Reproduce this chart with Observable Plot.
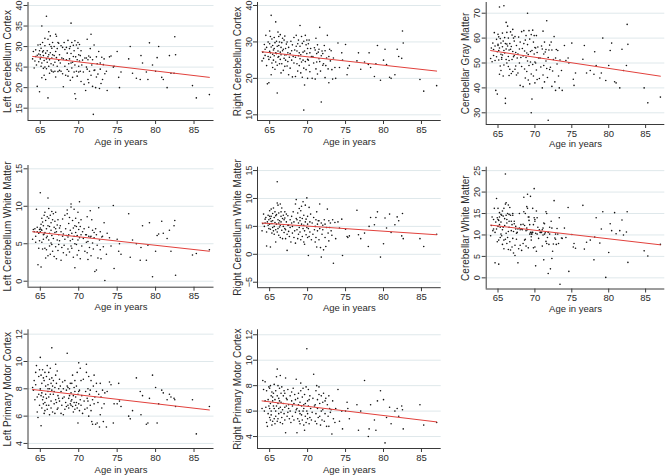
<!DOCTYPE html>
<html><head><meta charset="utf-8">
<script src="https://cdn.jsdelivr.net/npm/d3@7"></script>
<script src="https://cdn.jsdelivr.net/npm/@observablehq/plot@0.6"></script>
<style>
body{margin:0;background:#fff}
#chart{position:relative;width:667px;height:475px;overflow:hidden;font-family:"Liberation Sans",Arial,Helvetica,sans-serif}
#chart svg{position:absolute}
</style></head><body><div id="chart"></div>
<script>
// ---------- data ----------
const ageTicks = [65, 70, 75, 80, 85];
const xTitle = "Age in years";
const denseAges = [
64.0,64.1,64.2,64.3,64.4,64.4,
64.5,64.6,64.6,64.7,64.8,64.8,64.9,64.9,65.0,
65.0,65.0,65.1,65.1,65.1,65.2,65.2,65.2,65.3,65.3,65.4,65.4,65.4,65.5,
65.5,65.6,65.6,65.6,65.7,65.7,65.8,65.8,65.8,65.9,65.9,66.0,66.0,
66.0,66.1,66.1,66.1,66.2,66.2,66.2,66.3,66.3,66.4,66.4,66.4,66.5,66.5,
66.5,66.6,66.6,66.7,66.7,66.8,66.8,66.9,66.9,67.0,67.0,
67.0,67.1,67.1,67.2,67.2,67.3,67.3,67.4,67.4,67.5,
67.5,67.6,67.7,67.7,67.8,67.9,67.9,68.0,
68.0,68.1,68.2,68.2,68.3,68.4,68.4,68.5,
68.5,68.6,68.6,68.7,68.7,68.8,68.8,68.9,68.9,69.0,
69.0,69.0,69.1,69.1,69.2,69.2,69.3,69.3,69.4,69.4,69.5,69.5,
69.5,69.6,69.6,69.7,69.7,69.8,69.8,69.9,69.9,70.0,70.0,70.0,
70.1,70.1,70.2,70.2,70.3,70.3,70.4,70.5,
70.6,70.7,70.8,70.9,71.0,
71.0,71.1,71.1,71.2,71.2,71.3,71.3,71.4,71.5,
71.5,71.6,71.6,71.7,71.8,71.8,71.9,72.0,
72.0,72.1,72.2,72.3,72.3,72.4,72.5,
72.6,72.7,72.8,72.8,72.9,73.0,
73.1,73.2,73.3,73.4];
const sparseAges = [73.6,73.7,74.0,74.2,74.5,74.6,75.0,75.2,75.3,75.5,76.5,76.7,77.0,77.5,78.0,78.1,78.3,78.8,79.0,79.2,79.6,80.0,80.2,80.4,80.8,81.0,81.5,81.8,82.0,82.4,82.5,82.6,84.8,85.3,87.0];
const ages = denseAges.concat(sparseAges);

const leftCerebellumCortex = [
27.0,28.8,24.8,26.5,29.2,27.6,
25.5,20.3,27.9,30.4,26.3,28.2,19.0,29.0,27.0,
30.5,28.0,25.2,29.6,27.4,35.0,26.0,22.4,31.0,28.7,24.7,27.8,29.0,23.0,
26.6,30.2,25.0,32.0,22.0,28.4,27.0,24.6,37.4,29.0,26.2,31.8,27.5,
17.5,33.6,28.0,25.2,30.5,26.8,23.5,32.6,28.5,25.8,30.0,24.3,27.2,29.6,
24.0,28.0,31.0,25.5,23.8,27.8,30.0,26.2,24.0,28.8,22.6,
33.0,32.5,27.3,25.2,29.5,23.9,31.0,26.6,30.8,24.2,
28.0,26.0,24.0,30.2,27.2,29.8,23.4,20.2,
27.0,31.0,25.2,29.3,23.0,26.8,29.8,24.4,
28.4,22.8,31.5,25.8,24.0,29.5,27.0,30.0,21.8,26.0,
35.7,28.3,24.8,31.0,26.2,22.5,30.3,27.6,23.8,29.0,25.5,31.4,
18.5,17.3,27.5,24.0,30.4,26.8,22.8,29.6,31.0,25.2,28.0,23.8,
26.5,30.5,24.0,27.8,21.5,29.0,25.5,26.7,
23.8,20.8,27.2,19.3,25.0,
27.2,24.5,31.8,22.0,26.8,21.2,27.7,24.0,29.5,
27.4,23.0,33.0,25.5,20.3,26.8,13.5,24.2,
30.4,24.3,20.0,27.5,22.6,25.8,23.3,
28.8,19.8,26.0,24.5,21.0,27.4,
22.0,25.6,27.0,23.4,
24.0,19.3,27.5,27.7,25.0,25.2,28.8,22.5,20.0,23.8,27.0,30.0,23.5,22.3,22.0,27.8,26.0,23.8,22.0,30.9,25.5,24.0,27.3,30.0,22.5,22.0,20.0,27.8,23.5,23.5,32.4,28.0,20.5,17.5,18.3];

const rightCerebellumCortex = [
24.8,27.2,25.5,29.3,26.3,28.0,
31.8,23.5,28.5,18.5,26.0,30.0,18.8,25.2,27.4,
33.0,29.5,25.8,27.0,31.5,21.0,37.3,28.6,24.2,30.8,26.6,23.0,29.0,27.8,
25.0,28.2,31.2,26.2,22.5,29.8,35.5,27.0,24.5,30.2,26.8,28.8,23.6,
16.0,32.7,27.5,25.8,31.5,29.0,26.0,24.0,30.0,27.2,25.2,32.0,28.5,21.5,
26.5,29.8,24.0,31.0,27.6,22.2,28.0,25.5,30.5,26.4,23.3,
31.6,28.2,25.0,29.4,26.5,23.4,30.0,27.0,24.6,21.0,
28.5,25.8,26.8,22.8,30.2,25.0,27.6,20.4,
29.2,26.0,31.2,24.2,27.8,20.5,25.8,28.8,
31.8,24.0,27.5,29.5,22.0,26.2,30.5,23.5,27.0,25.4,
34.5,28.8,21.5,26.5,31.5,24.5,29.6,20.3,27.2,25.0,30.2,22.8,
11.3,18.2,27.5,31.8,24.6,29.2,22.4,26.8,30.5,25.2,28.2,20.0,
29.5,25.0,30.5,23.6,27.0,21.8,28.2,26.0,
20.0,26.0,24.2,28.4,19.8,
27.8,31.0,22.6,26.8,24.5,29.2,21.2,27.2,25.4,
28.0,24.6,34.0,22.0,26.2,13.5,27.5,23.6,
26.8,24.0,29.0,20.2,27.6,23.5,25.6,
31.8,22.6,26.0,18.8,28.0,24.8,
27.6,22.4,19.8,25.6,
23.0,20.0,29.7,23.0,27.0,25.0,29.3,21.0,22.8,23.5,24.8,27.0,22.5,24.5,23.8,27.0,23.0,20.5,24.0,29.0,19.5,25.0,28.0,23.8,20.3,20.0,21.0,28.0,26.0,25.5,33.0,29.7,19.7,16.5,18.0];

const cerebellarGrayMatter = [
51.8,56.0,50.5,58.0,53.0,55.4,
62.2,51.0,56.8,39.0,52.5,59.5,37.5,54.5,57.0,
61.5,57.5,51.2,55.0,60.5,45.5,72.5,56.0,48.8,59.8,53.5,47.0,58.0,52.2,
51.5,56.5,62.0,53.2,44.8,58.8,73.0,55.0,49.2,60.2,54.0,57.8,33.8,
35.8,66.3,55.6,51.4,62.3,57.6,50.0,64.8,56.8,52.6,60.0,48.6,55.2,45.0,
51.0,57.8,47.5,62.5,55.5,45.8,56.6,51.4,61.2,54.6,46.6,
63.5,60.0,52.5,58.8,53.0,47.5,60.6,54.2,48.8,45.2,
57.0,52.0,53.6,46.0,60.4,50.0,55.6,41.0,
58.4,52.2,62.6,48.6,55.8,40.5,52.8,57.8,
63.0,47.6,54.8,59.2,44.0,52.2,61.0,46.6,54.0,50.8,
70.0,57.4,43.2,53.4,63.0,49.0,59.6,41.6,54.6,50.4,61.4,45.6,
30.0,35.5,55.0,63.2,49.4,58.4,44.8,53.6,61.0,50.4,56.2,42.0,
56.0,50.0,61.0,47.2,54.2,43.4,56.4,52.0,
43.8,52.0,48.4,56.8,40.0,
55.6,62.8,45.2,53.6,49.0,58.4,42.4,54.4,50.8,
55.4,47.8,67.0,44.2,52.2,27.0,55.2,47.4,
57.2,48.3,58.4,40.6,55.2,46.8,51.4,
60.6,42.4,52.0,39.0,55.4,49.6,
55.0,44.8,40.0,51.2,
47.0,39.0,57.0,51.0,52.0,50.0,58.0,43.5,41.0,46.0,51.5,57.0,46.0,47.0,45.5,54.5,49.0,44.0,46.0,60.0,43.0,49.0,55.0,58.0,42.5,42.0,40.0,55.5,47.0,49.0,65.5,57.5,40.0,34.0,36.3];

const leftCerebellumWhiteMatter = [
5.6,6.9,6.6,7.0,5.2,6.0,
9.6,6.6,7.2,2.2,6.4,4.4,6.9,5.4,7.1,
11.8,6.6,6.9,1.9,7.6,5.2,8.4,6.8,4.3,7.9,6.2,5.6,7.4,8.8,
6.3,4.4,9.2,6.5,3.1,8.1,5.8,7.0,4.2,8.6,6.0,3.4,7.4,
11.1,8.4,5.5,9.7,7.3,4.7,6.4,8.8,3.6,7.8,5.1,6.8,9.3,4.9,
6.1,8.2,4.0,9.0,5.7,7.2,3.3,6.5,8.0,4.6,7.0,
9.2,6.6,3.0,7.5,5.5,4.1,8.2,6.2,4.9,7.1,
5.4,7.4,2.8,6.6,4.5,8.3,6.0,3.8,
6.3,4.8,8.8,5.6,7.0,3.5,6.1,9.0,
9.5,5.9,4.3,7.7,6.2,3.9,8.5,5.4,6.8,4.7,
10.3,9.9,6.4,4.4,8.1,5.6,7.1,3.2,6.0,9.6,5.0,7.4,
1.8,6.5,8.4,4.9,7.3,3.5,6.1,9.2,5.5,7.8,4.1,6.9,
10.6,5.8,7.3,3.0,8.2,6.2,4.7,6.6,
5.7,7.0,4.0,6.2,5.2,
6.2,3.8,8.6,5.3,2.9,7.2,6.0,4.5,5.9,
9.4,6.0,3.4,8.2,5.1,6.8,4.3,6.5,
5.8,1.3,7.0,1.5,6.2,4.8,3.1,
9.8,5.5,4.2,6.6,3.0,5.9,
6.0,4.6,7.8,0.1,
3.6,6.4,5.8,4.7,10.1,1.7,5.6,4.0,5.0,3.6,9.0,3.2,5.5,5.0,2.8,4.5,7.4,2.8,4.8,7.8,0.6,4.0,6.1,6.3,8.0,6.4,5.7,6.8,4.0,7.4,8.1,0.8,3.5,3.7,4.2];

const rightCerebellumWhiteMatter = [
4.2,5.5,7.2,5.0,6.3,5.6,
6.6,4.0,1.5,5.8,7.0,5.2,6.2,4.6,6.8,
5.4,7.8,6.4,4.5,1.3,5.9,8.1,6.8,3.8,5.5,7.3,4.8,6.0,4.2,
8.3,5.0,6.6,3.6,7.6,5.7,4.4,6.9,2.2,5.4,7.1,4.0,9.2,
13.0,6.2,4.6,8.8,5.6,3.4,7.4,6.0,4.9,9.0,5.2,3.0,6.8,7.6,
5.8,8.3,4.3,6.4,2.8,7.0,5.0,3.9,6.2,4.6,7.6,
6.5,4.4,2.8,5.8,7.2,3.6,0.7,5.2,6.9,4.1,
5.2,3.2,6.2,4.8,2.2,6.8,5.6,3.8,
5.0,7.6,3.0,5.8,4.2,9.0,2.0,6.4,
9.8,6.2,4.4,7.4,2.8,5.6,3.6,8.2,4.8,6.6,
6.0,4.0,7.8,2.6,5.4,8.6,3.2,6.4,4.6,9.4,5.2,2.2,
7.0,4.2,1.8,5.8,8.8,3.5,6.3,4.8,10.1,5.4,3.0,6.8,
-0.2,4.6,8.4,3.2,5.8,4.0,7.2,2.6,
5.6,3.6,6.6,4.4,2.2,
5.0,6.2,3.0,7.6,1.3,5.4,4.2,6.0,2.6,
6.0,9.0,4.6,1.2,5.6,-0.5,3.6,5.2,
4.4,0.8,6.2,3.0,5.4,1.4,4.8,
8.1,3.8,6.0,2.4,4.8,5.6,
4.2,3.4,6.2,-1.6,
5.7,2.8,5.8,4.7,6.3,-0.2,4.5,3.2,3.0,3.3,7.9,3.5,2.8,3.8,1.4,5.0,6.6,5.3,6.6,7.6,-0.5,1.9,6.5,4.7,7.2,3.9,5.3,6.7,6.0,3.3,7.3,2.8,2.8,1.4,3.6];

const cerebellarWhiteMatter = [
9.8,12.2,14.2,11.0,13.6,11.4,
16.2,10.6,3.5,13.0,18.5,11.4,14.0,8.4,13.6,
12.0,16.2,13.4,8.8,3.2,12.4,15.2,14.2,9.4,11.8,14.8,10.2,13.0,9.8,
14.6,11.2,15.6,7.8,14.4,11.8,8.8,16.2,6.8,12.2,13.8,9.0,17.2,
24.2,14.6,10.4,17.5,12.8,8.0,13.6,15.0,9.4,17.0,10.8,6.6,13.2,14.8,
11.8,16.4,8.4,14.6,6.5,13.2,11.0,7.2,12.4,9.2,14.6,
15.0,10.8,5.8,13.2,12.6,7.6,5.2,11.4,12.0,9.0,
10.4,10.6,3.5,11.4,6.8,15.0,11.6,7.6,
11.2,12.4,6.4,11.4,11.2,12.5,8.0,15.4,
18.8,12.2,8.8,15.0,9.0,11.0,7.4,16.6,11.6,11.2,
16.2,19.5,14.2,7.0,13.4,14.2,10.2,12.4,10.6,19.0,10.2,9.6,
8.8,10.6,10.2,10.6,16.2,7.0,12.4,14.0,20.8,13.2,7.2,13.6,
2.8,10.4,15.6,6.2,14.0,10.2,11.8,9.2,
11.2,10.6,10.6,10.6,7.4,
11.2,10.0,11.6,12.8,4.2,12.6,10.2,10.5,8.5,
15.4,15.0,8.0,9.4,10.6,1.0,7.8,11.8,
10.2,2.1,13.2,4.5,11.6,6.2,7.9,
18.0,9.3,10.2,9.0,7.8,11.5,
10.2,8.0,14.0,-1.5,
9.3,9.2,11.6,9.4,16.4,1.5,10.1,7.2,8.0,6.9,16.9,6.7,8.3,8.8,4.2,9.5,14.0,8.1,11.4,15.4,0.1,5.9,12.6,11.0,15.2,10.3,11.0,13.5,10.0,10.7,15.4,3.6,6.3,5.1,7.8];

const leftPrimaryMotorCortex = [
8.1,7.9,8.6,7.2,9.2,8.3,
9.7,7.4,6.3,5.9,8.9,7.6,6.8,9.4,7.9,
8.0,10.3,7.5,5.3,9.0,7.7,6.6,8.4,7.2,9.4,6.9,8.8,7.4,6.2,
8.6,7.0,9.2,6.4,8.2,7.6,6.8,8.9,7.3,9.7,6.5,8.0,7.8,
8.3,6.8,9.2,7.4,8.7,6.1,8.0,7.6,9.5,6.6,8.4,7.1,8.8,7.9,
11.0,8.2,6.3,7.6,8.6,6.9,7.8,6.2,8.1,7.2,9.0,
9.8,7.0,8.4,6.5,9.3,7.5,6.6,8.0,7.3,8.7,
7.1,8.2,6.2,7.8,6.8,8.5,7.3,6.1,
8.0,7.4,6.5,8.6,7.0,6.7,7.9,8.2,
10.6,6.8,8.1,7.3,6.6,8.0,7.5,6.9,8.4,7.1,
7.7,6.8,8.4,7.2,6.7,9.0,7.5,6.3,8.1,7.0,7.8,6.5,
8.6,7.4,6.8,8.2,7.0,6.6,9.2,5.5,7.6,6.9,9.9,7.8,
7.9,6.4,9.5,7.2,6.8,8.6,7.5,6.2,
8.7,7.1,6.5,7.8,9.8,
9.2,7.3,6.6,8.0,7.1,6.0,8.9,7.6,6.8,
7.9,8.6,6.4,5.6,7.2,5.4,8.2,6.9,
9.0,7.4,5.4,8.4,7.8,5.5,7.0,
7.6,5.2,8.4,6.1,7.4,6.6,
7.9,5.6,6.9,7.7,
5.2,7.8,8.5,8.3,5.5,6.9,6.9,8.4,7.1,6.7,6.0,5.8,6.4,8.8,7.8,6.1,7.5,5.4,5.5,7.3,9.0,8.1,5.5,6.9,7.9,7.7,7.2,7.6,7.4,7.3,7.2,6.7,7.2,4.7,6.7];

const rightPrimaryMotorCortex = [
6.2,8.4,7.7,6.0,8.3,6.8,
6.3,5.1,7.6,4.8,6.9,5.8,7.9,6.4,5.5,
7.8,6.2,5.3,8.0,6.6,7.2,5.7,6.0,7.5,4.9,6.8,5.2,7.1,6.4,
7.4,5.4,6.2,8.1,5.0,6.9,6.0,7.6,5.6,8.7,6.4,5.2,7.2,
9.3,6.6,8.0,5.4,7.0,6.2,5.8,7.8,6.8,5.1,8.8,6.3,7.4,5.9,
6.7,5.5,7.9,6.1,5.0,7.2,6.6,5.8,7.6,6.3,5.3,
7.4,8.6,4.3,6.4,7.0,5.6,6.9,7.7,5.9,6.2,
6.5,5.4,7.2,6.0,5.1,6.8,7.5,5.6,
6.4,7.8,5.3,6.6,7.3,5.9,6.9,6.1,
8.5,6.2,4.3,7.0,5.4,6.5,7.4,5.2,6.0,5.8,
6.7,5.0,7.6,8.2,5.7,6.4,7.1,5.3,6.0,7.8,4.9,6.5,
6.2,4.5,7.3,5.6,6.6,5.1,7.9,6.0,10.9,5.4,6.8,5.8,
7.7,6.4,5.0,6.9,5.5,7.2,6.2,5.3,
5.9,7.0,8.9,6.4,5.2,
6.5,7.6,5.8,8.0,5.0,6.9,6.2,5.5,7.3,
7.9,5.6,6.6,4.9,7.2,6.0,5.3,6.7,
6.1,7.4,5.2,6.8,5.8,7.0,4.8,
6.5,5.6,7.2,4.8,6.2,5.9,
6.1,4.2,6.8,5.4,
5.1,6.2,7.7,5.2,6.0,4.6,6.0,6.7,6.2,5.4,6.5,4.5,6.0,8.4,4.0,4.6,6.5,5.3,4.5,6.8,7.6,6.9,3.5,5.5,6.3,5.0,6.0,6.2,5.6,6.4,6.1,4.6,6.5,4.9,5.1];

// fitted lines (read at the two ends, ages 64 and 87)
const fitAges = [64, 87];
const fitLeftCerebellumCortex = [27.6, 22.5];
const fitRightCerebellumCortex = [27.3, 22.0];
const fitCerebellarGrayMatter = [55.0, 44.7];
const fitLeftCerebellumWhiteMatter = [6.6, 4.0];
const fitRightCerebellumWhiteMatter = [5.6, 3.5];
const fitCerebellarWhiteMatter = [12.3, 7.7];
const fitLeftPrimaryMotorCortex = [7.95, 6.45];
const fitRightPrimaryMotorCortex = [6.8, 5.15];

const panelTitles = ["Left Cerebellum Cortex","Right Cerebellum Cortex","Cerebellar Gray Matter","Left Cerebellum White Matter","Right Cerebellum White Matter","Cerebellar White Matter","Left Primary Motor Cortex","Right Primary Motor Cortex"];
const panelValues = [leftCerebellumCortex,rightCerebellumCortex,cerebellarGrayMatter,leftCerebellumWhiteMatter,rightCerebellumWhiteMatter,cerebellarWhiteMatter,leftPrimaryMotorCortex,rightPrimaryMotorCortex];
const panelFits = [fitLeftCerebellumCortex,fitRightCerebellumCortex,fitCerebellarGrayMatter,fitLeftCerebellumWhiteMatter,fitRightCerebellumWhiteMatter,fitCerebellarWhiteMatter,fitLeftPrimaryMotorCortex,fitRightPrimaryMotorCortex];
const panelYTicks = [[15,20,25,30,35,40],[10,20,30,40],[30,40,50,60,70],[0,5,10,15],[-5,0,5,10,15],[0,5,10,15,20,25],[4,6,8,10,12],[4,6,8,10,12]];

// ---------- layout (pixels) ----------
const xDomain = [63.4, 87.6];
const layout = [
 {left:0,   top:0,   w:222, h:155, fl:27.5,  fr:213.5, T:2,     B:120,   yTop:40.73, yBot:12.0,  titleY:141.5},
 {left:222, top:0,   w:222, h:155, fl:257,   fr:440.7, T:2,     B:120,   yTop:40.82, yBot:8.44,  titleY:141.5},
 {left:444, top:0,   w:223, h:155, fl:485.7, fr:664.3, T:2,     B:124,   yTop:74.3,  yBot:25.3,  titleY:143},
 {left:0,   top:155, w:222, h:157, fl:27.5,  fr:213.5, T:165,   B:286.7, yTop:15.44, yBot:-0.8,  titleY:306.5},
 {left:222, top:155, w:222, h:157, fl:257,   fr:440.7, T:166.7, B:287.2, yTop:15.6,  yBot:-5.98, titleY:307.5},
 {left:444, top:155, w:223, h:157, fl:485.7, fr:664.3, T:166.7, B:288.5, yTop:25.8,  yBot:-2.6,  titleY:308},
 {left:0,   top:312, w:222, h:163, fl:27.5,  fr:213.5, T:329.3, B:448,   yTop:12.32, yBot:3.63,  titleY:469},
 {left:222, top:312, w:222, h:163, fl:257,   fr:440.7, T:329.3, B:448,   yTop:12.39, yBot:3.06,  titleY:469}
];

const axisColor = "#3a3a3a";
const gridColor = "#dfe8eb";
const textColor = "#2a2a2a";
const lineColor = "#e2413c";

const chart = document.getElementById("chart");
layout.forEach((L, i) => {
  const vals = panelValues[i];
  const pts = ages.map((a, k) => ({age: a, v: vals[k]})).filter(d => d.v !== undefined);
  const fit = fitAges.map((a, k) => ({age: a, v: panelFits[i][k]}));
  const mt = L.T - L.top, mb = L.top + L.h - L.B, ml = L.fl - L.left, mr = L.left + L.w - L.fr;
  const svg = Plot.plot({
    width: L.w, height: L.h,
    marginTop: mt, marginBottom: mb, marginLeft: ml, marginRight: mr,
    style: {fontFamily: '"Liberation Sans", Arial, Helvetica, sans-serif', fontSize: "9px", color: textColor, background: "transparent", overflow: "visible"},
    x: {domain: xDomain, axis: null},
    y: {domain: [L.yBot, L.yTop], axis: null},
    marks: [
      Plot.gridY(panelYTicks[i], {stroke: gridColor, strokeOpacity: 1, strokeWidth: 1}),
      Plot.axisY(panelYTicks[i], {tickSize: 4, tickPadding: 2, tickRotate: -90, stroke: axisColor, label: null, fontSize: 9}),
      Plot.axisX(ageTicks, {tickSize: 4, tickPadding: 1.5, stroke: axisColor, label: null, fontSize: 9.5}),
      Plot.ruleX([xDomain[0]], {stroke: axisColor}),
      Plot.ruleY([L.yBot], {stroke: axisColor}),
      Plot.dot(pts, {x: "age", y: "v", r: 0.8, fill: "#111"}),
      Plot.line(fit, {x: "age", y: "v", stroke: lineColor, strokeWidth: 1}),
      Plot.text([xTitle], {frameAnchor: "bottom", dy: L.titleY - L.B, lineAnchor: "middle", fontSize: 9.5, text: d => d}),
      Plot.text([panelTitles[i]], {frameAnchor: "left", rotate: -90, dx: -17, lineAnchor: "bottom", textAnchor: "middle", fontSize: 10, text: d => d})
    ]
  });
  svg.style.left = L.left + "px";
  svg.style.top = L.top + "px";
  chart.appendChild(svg);
});
</script></body></html>
